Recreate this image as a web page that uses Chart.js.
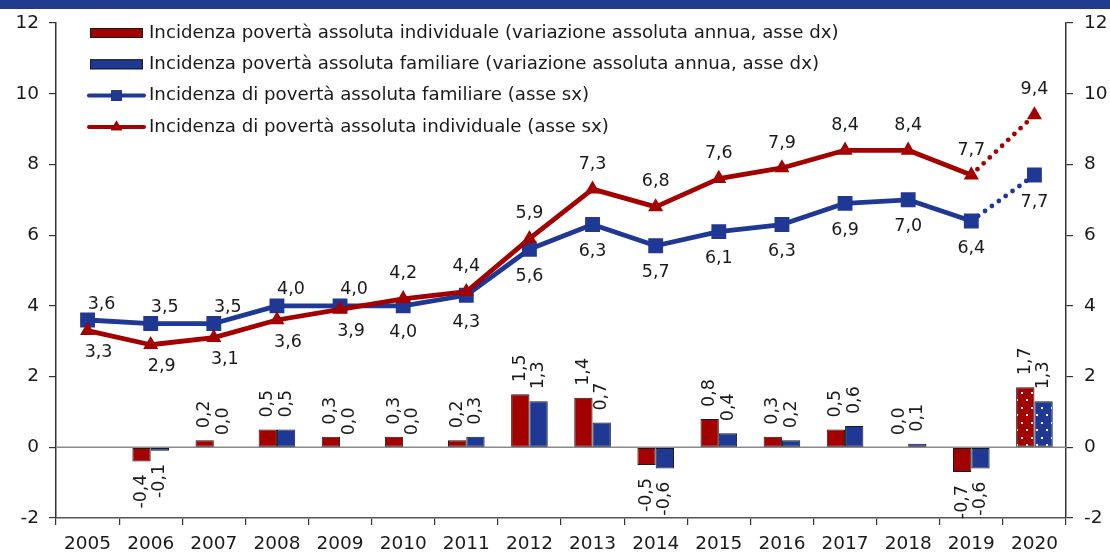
<!DOCTYPE html>
<html lang="it">
<head>
<meta charset="utf-8">
<title>Incidenza povertà assoluta</title>
<script src="https://cdn.jsdelivr.net/npm/chart.js@4.4.1/dist/chart.umd.min.js"></script>
<style>
  html, body { margin: 0; padding: 0; background: #fff; }
  #wrap { position: relative; width: 1110px; height: 553px; }
  #band { position: absolute; left: 0; top: 0; width: 1110px; height: 9px; background: #1f3a8f; }
</style>
</head>
<body>
<div id="wrap">
  <canvas id="povertyChart" width="1110" height="553"></canvas>
  <div id="band"></div>
</div>
<script>
// data
const years = ['2005', '2006', '2007', '2008', '2009', '2010', '2011', '2012',
               '2013', '2014', '2015', '2016', '2017', '2018', '2019', '2020'];
const indChange = [null, -0.4, 0.2, 0.5, 0.3, 0.3, 0.2, 1.5, 1.4, -0.5, 0.8, 0.3, 0.5, 0.0, -0.7, 1.7];
const famChange = [null, -0.1, 0.0, 0.5, 0.0, 0.0, 0.3, 1.3, 0.7, -0.6, 0.4, 0.2, 0.6, 0.1, -0.6, 1.3];
const famIncidence = [3.6, 3.5, 3.5, 4.0, 4.0, 4.0, 4.3, 5.6, 6.3, 5.7, 6.1, 6.3, 6.9, 7.0, 6.4, 7.7];
const indIncidence = [3.3, 2.9, 3.1, 3.6, 3.9, 4.2, 4.4, 5.9, 7.3, 6.8, 7.6, 7.9, 8.4, 8.4, 7.7, 9.4];
const axisTicks = [-2, 0, 2, 4, 6, 8, 10, 12];
const provisionalYear = '2020';

// where the value labels of the lines sit
const famLabelPos = ['ne', 'ne', 'ne', 'ne', 'ne', 's', 's', 's', 's', 's', 's', 's', 's', 's', 's', 's'];
const indLabelPos = ['se', 'se', 'se', 'se', 'se', 'n', 'n', 'n', 'n', 'n', 'n', 'n', 'n', 'n', 'n', 'n'];

const RED = '#a30000';
const BLUE = '#1f3894';
const TEXT = '#1a1a1a';
const FONT = '"DejaVu Sans", sans-serif';
const provIdx = years.indexOf(provisionalYear);

Chart.defaults.font.family = FONT;
Chart.defaults.font.size = 17;
Chart.defaults.color = TEXT;

const fmt = v => v.toFixed(1).replace('.', ',');

function dotPattern(color) {
    const c = document.createElement('canvas');
    c.width = 10;
    c.height = 15;
    const g = c.getContext('2d');
    g.fillStyle = color;
    g.fillRect(0, 0, 10, 15);
    g.fillStyle = '#ffffff';
    g.fillRect(1, 2, 2, 2);
    g.fillRect(6, 9, 2, 2);
    return g.createPattern(c, 'repeat');
}
const redDots = dotPattern(RED);
const blueDots = dotPattern(BLUE);

// horizontal line at zero
const zeroLine = {
    id: 'zeroLine',
    beforeDatasetsDraw(chart) {
        const { ctx, chartArea } = chart;
        const y = chart.scales.yR.getPixelForValue(0);
        ctx.save();
        ctx.strokeStyle = '#8a8a8a';
        ctx.lineWidth = 1.5;
        ctx.beginPath();
        ctx.moveTo(chartArea.left, y);
        ctx.lineTo(chartArea.right, y);
        ctx.stroke();
        ctx.restore();
    }
};

// value labels: rotated on bars, horizontal on lines
const valueLabels = {
    id: 'valueLabels',
    afterDatasetsDraw(chart) {
        const ctx = chart.ctx;
        ctx.save();
        ctx.fillStyle = TEXT;
        ctx.font = '17.5px ' + FONT;
        ctx.textBaseline = 'middle';
        chart.data.datasets.forEach((ds, di) => {
            const meta = chart.getDatasetMeta(di);
            meta.data.forEach((el, i) => {
                const v = ds.data[i];
                if (v === null || v === undefined) return;
                if (ds.type === 'bar') {
                    const up = el.y <= el.base;
                    ctx.save();
                    ctx.translate(el.x, up ? el.y - 12 : el.y + 13);
                    ctx.rotate(-Math.PI / 2);
                    ctx.textAlign = up ? 'left' : 'right';
                    ctx.fillText(fmt(v), 0, 0);
                    ctx.restore();
                } else {
                    const pos = ds.labelPos[i];
                    let dx = 0, dy = 0;
                    if (pos === 'n') dy = -25;
                    if (pos === 's') dy = 27;
                    if (pos === 'ne') { dx = 14; dy = -16; }
                    if (pos === 'se') { dx = 11; dy = 22; }
                    ctx.textAlign = 'center';
                    ctx.fillText(fmt(v), el.x + dx, el.y + dy);
                }
            });
        });
        ctx.restore();
    }
};

// legend drawn inside the plot, top left
const innerLegend = {
    id: 'innerLegend',
    afterDraw(chart) {
        const ctx = chart.ctx;
        const x0 = 90, x1 = 143, top = 33, step = 31.3;
        ctx.save();
        ctx.font = '18.2px ' + FONT;
        ctx.textBaseline = 'middle';
        ctx.textAlign = 'left';
        chart.data.datasets.forEach((ds, i) => {
            const y = top + i * step;
            if (ds.type === 'bar') {
                ctx.fillStyle = ds.legendColor;
                ctx.fillRect(x0, y - 5, x1 - x0, 10);
                ctx.strokeStyle = '#1a1a1a';
                ctx.lineWidth = 1;
                ctx.strokeRect(x0 + 0.5, y - 4.5, x1 - x0 - 1, 9);
            } else {
                ctx.strokeStyle = ds.borderColor;
                ctx.lineWidth = 4;
                ctx.lineCap = 'round';
                ctx.beginPath();
                ctx.moveTo(x0 - 1, y);
                ctx.lineTo(x1 + 1, y);
                ctx.stroke();
                const cx = (x0 + x1) / 2;
                Chart.helpers.drawPoint(ctx, {
                    pointStyle: ds.pointStyle,
                    radius: ds.pointStyle === 'rect' ? 7.5 : 6.5,
                    borderWidth: 0
                }, cx, y);
                ctx.fillStyle = ds.borderColor;
                ctx.fill();
            }
            ctx.fillStyle = TEXT;
            ctx.fillText(ds.label, 149, y);
        });
        ctx.restore();
    }
};

const dottedLast = ctx => ctx.p1DataIndex === provIdx ? [0, 8.5] : undefined;

const axisY = (position, width, padding) => ({
    position: position,
    min: axisTicks[0],
    max: axisTicks[axisTicks.length - 1],
    ticks: { stepSize: axisTicks[1] - axisTicks[0], padding: padding, color: TEXT, font: { size: 18.5 } },
    grid: { drawOnChartArea: false, tickLength: 7, color: '#333', lineWidth: 1.2 },
    border: { color: '#333', width: 1.5 },
    afterFit: s => { s.width = width; }
});

const ctx = document.getElementById('povertyChart').getContext('2d');
const povertyChart = new Chart(ctx, {
    data: {
        labels: years,
        datasets: [{
            type: 'bar',
            label: 'Incidenza povertà assoluta individuale (variazione assoluta annua, asse dx)',
            data: indChange,
            yAxisID: 'yR',
            backgroundColor: c => c.dataIndex === provIdx ? redDots : RED,
            legendColor: RED,
            borderColor: '#1a1a1a',
            borderWidth: 1,
            borderSkipped: false,
            categoryPercentage: 0.58,
            barPercentage: 1.0,
            order: 2
        }, {
            type: 'bar',
            label: 'Incidenza povertà assoluta familiare (variazione assoluta annua, asse dx)',
            data: famChange,
            yAxisID: 'yR',
            backgroundColor: c => c.dataIndex === provIdx ? blueDots : BLUE,
            legendColor: BLUE,
            borderColor: '#1a1a1a',
            borderWidth: 1,
            borderSkipped: false,
            categoryPercentage: 0.58,
            barPercentage: 1.0,
            order: 2
        }, {
            type: 'line',
            label: 'Incidenza di povertà assoluta familiare (asse sx)',
            data: famIncidence,
            labelPos: famLabelPos,
            yAxisID: 'yL',
            borderColor: BLUE,
            backgroundColor: BLUE,
            borderWidth: 4.8,
            borderCapStyle: 'round',
            borderJoinStyle: 'round',
            pointStyle: 'rect',
            pointRadius: 10.5,
            pointBorderWidth: 0,
            segment: { borderDash: dottedLast },
            order: 1
        }, {
            type: 'line',
            label: 'Incidenza di povertà assoluta individuale (asse sx)',
            data: indIncidence,
            labelPos: indLabelPos,
            yAxisID: 'yL',
            borderColor: RED,
            backgroundColor: RED,
            borderWidth: 4.8,
            borderCapStyle: 'round',
            borderJoinStyle: 'round',
            pointStyle: 'triangle',
            pointRadius: 8.7,
            pointBorderWidth: 0,
            segment: { borderDash: dottedLast },
            order: 0
        }]
    },
    options: {
        responsive: false,
        devicePixelRatio: 1,
        animation: false,
        layout: { padding: { top: 23, left: 0, right: 0, bottom: 0 } },
        plugins: {
            legend: { display: false },
            tooltip: { enabled: false }
        },
        scales: {
            x: {
                offset: true,
                grid: { offset: true, drawOnChartArea: false, tickLength: 7, color: '#333', lineWidth: 1.2 },
                border: { color: '#555', width: 1.5 },
                ticks: { padding: 8, color: TEXT, font: { size: 18.5 }, maxRotation: 0, autoSkip: false },
                afterFit: s => { s.height = 35; }
            },
            yL: axisY('left', 56, 10),
            yR: axisY('right', 44, 11)
        }
    },
    plugins: [zeroLine, valueLabels, innerLegend]
});
</script>
</body>
</html>
